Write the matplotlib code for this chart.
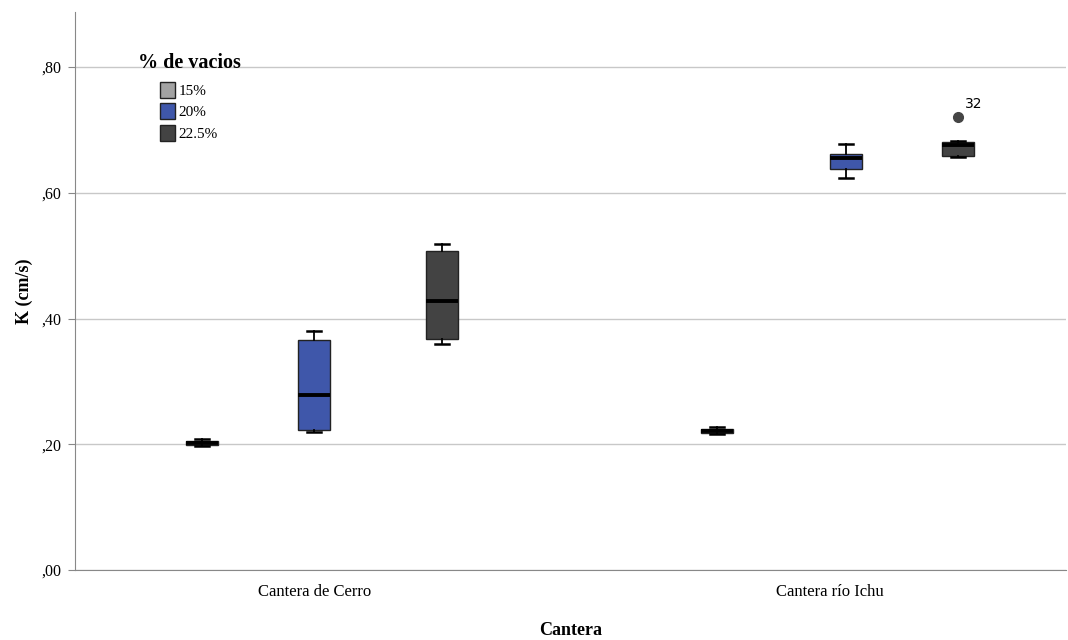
import matplotlib.pyplot as plt
from matplotlib.patches import Patch

# datos (K en cm/s)
canteras = ["Cantera de Cerro", "Cantera río Ichu"]
vacios = ["15%", "20%", "22.5%"]
colores = ["#a3a3a3", "#3f57aa", "#434343"]

# por cantera y % vacios: bigote inf, Q1, mediana, Q3, bigote sup
cerro_low = [0.197, 0.219, 0.359]
cerro_q1 = [0.199, 0.223, 0.367]
cerro_med = [0.202, 0.278, 0.428]
cerro_q3 = [0.205, 0.366, 0.507]
cerro_high = [0.209, 0.380, 0.518]

ichu_low = [0.216, 0.6235, 0.657]
ichu_q1 = [0.218, 0.638, 0.658]
ichu_med = [0.221, 0.655, 0.676]
ichu_q3 = [0.224, 0.662, 0.681]
ichu_high = [0.227, 0.6775, 0.682]

outlier_val = 0.7205
outlier_id = "32"

# posiciones (en unidades del eje x)
pos_cerro = [127, 239, 367]
pos_ichu = [642, 771, 883]
ancho = 32

plt.rcParams['font.family'] = ['Liberation Serif', 'DejaVu Serif']

fig = plt.figure(figsize=(10.68, 6.4), dpi=100)
ax = fig.add_axes([75 / 1068, 70 / 640, 991 / 1068, 558 / 640])

stats = []
pos = []
cols = []
for i in range(3):
    stats.append(dict(whislo=cerro_low[i], q1=cerro_q1[i], med=cerro_med[i],
                      q3=cerro_q3[i], whishi=cerro_high[i], fliers=[]))
    pos.append(pos_cerro[i])
    cols.append(colores[i])
for i in range(3):
    fl = [outlier_val] if i == 2 else []
    stats.append(dict(whislo=ichu_low[i], q1=ichu_q1[i], med=ichu_med[i],
                      q3=ichu_q3[i], whishi=ichu_high[i], fliers=fl))
    pos.append(pos_ichu[i])
    cols.append(colores[i])

bp = ax.bxp(stats, positions=pos, widths=ancho, patch_artist=True,
            showfliers=True, manage_ticks=False,
            boxprops=dict(edgecolor="#222222", linewidth=1),
            medianprops=dict(color="black", linewidth=2.8),
            whiskerprops=dict(color="black", linewidth=1.3),
            capprops=dict(color="black", linewidth=1.8),
            capwidths=ancho * 0.45,
            flierprops=dict(marker="o", markerfacecolor="#454545",
                            markeredgecolor="#454545", markersize=7))
for b, c in zip(bp["boxes"], cols):
    b.set_facecolor(c)

ax.text(pos_ichu[2] + 7, outlier_val + 0.02, outlier_id, fontsize=10,
        family="DejaVu Sans", ha="left", va="center")

ax.set_xlim(0, 991)
ax.set_ylim(0, 0.8875)
ax.set_yticks([0, 0.2, 0.4, 0.6, 0.8])
ax.set_yticklabels([",00", ",20", ",40", ",60", ",80"], fontsize=11.5)
ax.set_xticks([240, 755])
ax.set_xticklabels(canteras, fontsize=12)
ax.tick_params(axis="x", length=0, pad=10)
ax.tick_params(axis="y", length=5, color="#888888", pad=5)
ax.grid(axis="y", color="#c8c8c8", linewidth=1)
ax.set_axisbelow(True)
for s in ["top", "right"]:
    ax.spines[s].set_visible(False)
ax.spines["left"].set_color("#888888")
ax.spines["bottom"].set_color("#888888")

ax.set_ylabel("K (cm/s)", fontsize=13, fontweight="bold", labelpad=6)
ax.set_xlabel("Cantera", fontsize=13, fontweight="bold", labelpad=16)

# leyenda
fig.text(138 / 1068, 1 - 63 / 640, "% de vacios", fontsize=14.5,
         fontweight="bold", ha="left", va="center")
handles = [Patch(facecolor=c, edgecolor="#222222", label=v)
           for c, v in zip(colores, vacios)]
leg = fig.legend(handles=handles, loc="upper left",
                 bbox_to_anchor=(160 / 1068, 1 - 82 / 640), frameon=False,
                 fontsize=11, handlelength=1.0, handleheight=1.25,
                 handletextpad=0.2, labelspacing=0.33, borderaxespad=0,
                 borderpad=0)

fig.savefig("out.png", dpi=100)
